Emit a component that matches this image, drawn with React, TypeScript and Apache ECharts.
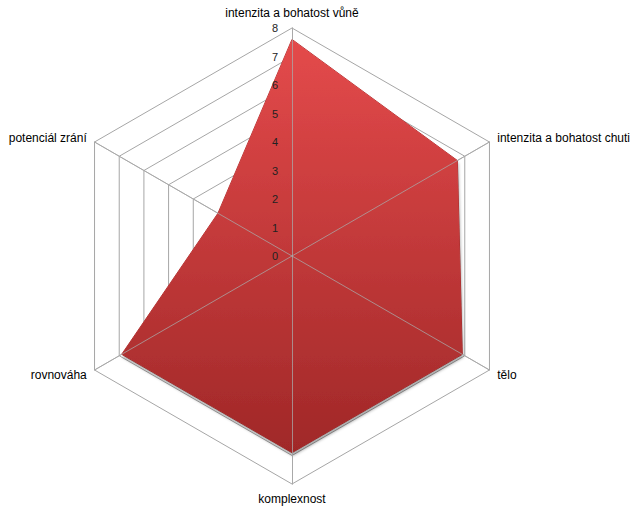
import React, { useEffect, useRef } from "react";
import * as echarts from "echarts";

const indicatorNames = [
  "intenzita a bohatost vůně",
  "intenzita a bohatost chuti",
  "tělo",
  "komplexnost",
  "rovnováha",
  "potenciál zrání",
];
const values = [7.6, 6.7, 6.9, 6.9, 6.9, 3.0];
const maxValue = 8;
const splitCount = 8;

// ECharts radar runs counter-clockwise; reorder so the axes run clockwise
const order = [0, 5, 4, 3, 2, 1];
const orderedNames = order.map((i) => indicatorNames[i]);
const orderedValues = order.map((i) => values[i]);

export default function App() {
  const ref = useRef<HTMLDivElement>(null);
  useEffect(() => {
    document.body.style.margin = "0";
    if (!ref.current) return;
    const chart = echarts.init(ref.current, null, { renderer: "svg" });
    const font = "'Liberation Sans', Arial, sans-serif";
    const center = [292, 256];
    const radius = 228;
    chart.setOption({
      animation: false,
      backgroundColor: "#ffffff",
      radar: [
        {
          center,
          radius,
          shape: "polygon",
          startAngle: 90,
          splitNumber: splitCount,
          nameGap: 9,
          axisName: { color: "#000000", fontSize: 12, fontFamily: font },
          indicator: orderedNames.map((n) => ({ name: n, min: 0, max: maxValue })),
          splitLine: { lineStyle: { color: "#a6a6a6", width: 1 } },
          splitArea: { show: false },
          axisLine: { lineStyle: { color: "#a6a6a6", width: 1 } },
          axisTick: { show: false },
          axisLabel: { show: false },
          z: 0,
        },
        {
          center,
          radius,
          shape: "polygon",
          startAngle: 90,
          splitNumber: splitCount,
          axisName: { show: false },
          indicator: orderedNames.map((n, i) => ({
            name: "",
            min: 0,
            max: maxValue,
            axisLabel: { show: i === 0 },
          })),
          splitLine: { show: false },
          splitArea: { show: false },
          axisLine: { lineStyle: { color: "rgba(170,170,170,0.75)", width: 1 } },
          axisTick: { show: false },
          axisLabel: {
            show: true,
            color: "#222222",
            fontSize: 11,
            fontFamily: font,
            margin: 14,
          },
          z: 10,
        },
      ],
      series: [
        {
          type: "radar",
          radarIndex: 0,
          z: 5,
          symbol: "none",
          lineStyle: { color: "#b33232", width: 1 },
          areaStyle: {
            opacity: 1,
            color: {
              type: "linear",
              x: 0,
              y: 0,
              x2: 0,
              y2: 1,
              colorStops: [
                { offset: 0, color: "#e44a4b" },
                { offset: 1, color: "#a02828" },
              ],
            },
            shadowColor: "rgba(0,0,0,0.35)",
            shadowBlur: 3,
            shadowOffsetX: 1,
            shadowOffsetY: 3,
          },
          data: [{ value: orderedValues, name: "hodnocení" }],
        },
      ],
    });
    return () => chart.dispose();
  }, []);
  return <div ref={ref} style={{ width: 643, height: 513 }} />;
}
